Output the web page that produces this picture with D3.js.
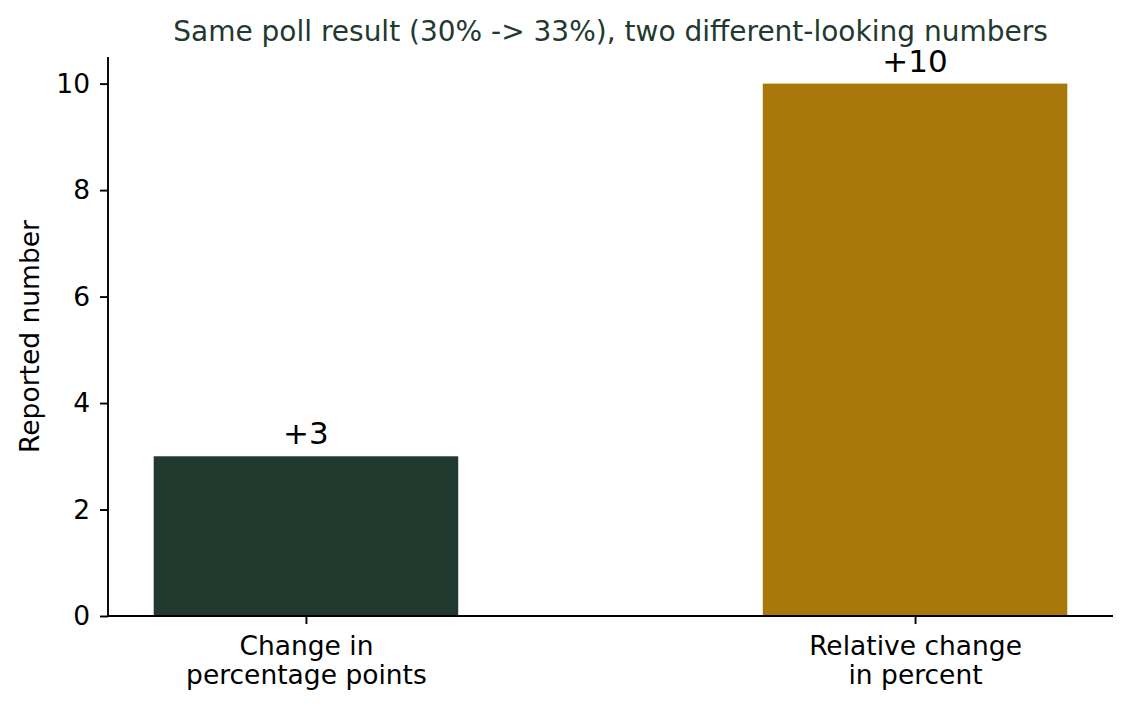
<!DOCTYPE html>
<html>
<head>
<meta charset="utf-8">
<script src="https://cdn.jsdelivr.net/npm/d3@7"></script>
<style>
  body { margin: 0; background: #fff; }
  svg text { font-family: "DejaVu Sans", sans-serif; }
</style>
</head>
<body>
<svg id="chart" width="1132" height="710"></svg>
<script>
// data
var categories = ["Change in\npercentage points", "Relative change\nin percent"];
var values = [3, 10];
var valueLabels = ["+3", "+10"];
var barColors = ["#203a30", "#a8780a"];
var yTicks = [0, 2, 4, 6, 8, 10];

var width = 1132, height = 710;
var margin = {top: 57, right: 19, bottom: 94, left: 108};
var svg = d3.select("#chart");

// matplotlib-style linear x around category positions 0..n-1, bar width 0.5
var x = d3.scaleLinear()
    .domain([-0.325, categories.length - 1 + 0.325])
    .range([margin.left, width - margin.right]);
var y = d3.scaleLinear()
    .domain([0, 10.5])
    .range([height - margin.bottom, margin.top]);

var barW = 0.5;

svg.selectAll(".bar")
    .data(values)
  .enter().append("rect")
    .attr("class", "bar")
    .attr("x", function(d, i) { return x(i - barW / 2); })
    .attr("width", function(d, i) { return x(i + barW / 2) - x(i - barW / 2); })
    .attr("y", function(d) { return y(d); })
    .attr("height", function(d) { return y(0) - y(d); })
    .attr("fill", function(d, i) { return barColors[i]; });

svg.selectAll(".vlabel")
    .data(values)
  .enter().append("text")
    .attr("class", "vlabel")
    .attr("x", function(d, i) { return x(i); })
    .attr("y", function(d) { return y(d) - 12; })
    .attr("text-anchor", "middle")
    .attr("font-size", 31)
    .attr("fill", "#000")
    .text(function(d, i) { return valueLabels[i]; });

// y axis
var yAxis = svg.append("g")
    .attr("transform", "translate(" + margin.left + ",0)")
    .call(d3.axisLeft(y).tickValues(yTicks).tickSize(8).tickPadding(10).tickFormat(d3.format("d")));
yAxis.select(".domain").attr("stroke-width", 1.9).attr("d", "M0," + y(0) + "V" + margin.top);
yAxis.selectAll(".tick line").attr("stroke-width", 1.9);
yAxis.selectAll(".tick text").attr("font-size", 26.5).attr("font-family", "DejaVu Sans").attr("fill", "#000");

// x axis
var xAxis = svg.append("g")
    .attr("transform", "translate(0," + y(0) + ")")
    .call(d3.axisBottom(x).tickValues(d3.range(categories.length)).tickSize(8).tickFormat(""));
xAxis.select(".domain").attr("stroke-width", 1.9).attr("d", "M" + margin.left + ",0H" + (width - margin.right));
xAxis.selectAll(".tick line").attr("stroke-width", 1.9);

xAxis.selectAll(".tick").each(function(d) {
  var lines = categories[d].split("\n");
  var t = d3.select(this).append("text")
      .attr("text-anchor", "middle")
      .attr("font-size", 26.5)
      .attr("fill", "#000")
      .attr("y", 39);
  lines.forEach(function(line, k) {
    t.append("tspan").attr("x", 0).attr("dy", k === 0 ? 0 : 28.5).text(line);
  });
});

// y label
svg.append("text")
    .attr("transform", "translate(39," + ((margin.top + height - margin.bottom) / 2) + ") rotate(-90)")
    .attr("text-anchor", "middle")
    .attr("font-size", 26.5)
    .attr("fill", "#000")
    .text("Reported number");

// title
svg.append("text")
    .attr("x", (margin.left + width - margin.right) / 2)
    .attr("y", 41)
    .attr("text-anchor", "middle")
    .attr("font-size", 28)
    .attr("fill", "#22392f")
    .text("Same poll result (30% -> 33%), two different-looking numbers");
</script>
</body>
</html>
